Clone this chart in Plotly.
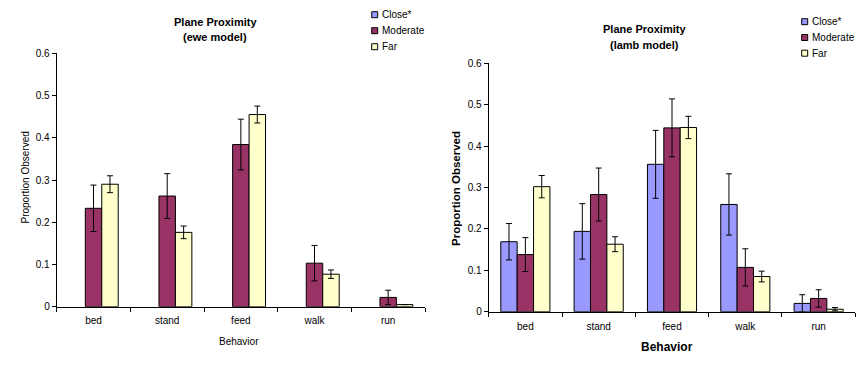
import plotly.graph_objects as go

categories = ["bed", "stand", "feed", "walk", "run"]
series_names = ["Close*", "Moderate", "Far"]
colors = ["#9999FF", "#993366", "#FFFFCC"]

# ewe model (left)
ewe_close = [None, None, None, None, None]
ewe_close_err = [0, 0, 0, 0, 0]
ewe_moderate = [0.233, 0.262, 0.384, 0.103, 0.022]
ewe_moderate_err = [0.055, 0.053, 0.060, 0.042, 0.017]
ewe_far = [0.290, 0.176, 0.455, 0.077, 0.005]
ewe_far_err = [0.020, 0.015, 0.020, 0.010, 0.0]

# lamb model (right)
lamb_close = [0.169, 0.194, 0.356, 0.259, 0.020]
lamb_close_err = [0.044, 0.067, 0.082, 0.074, 0.021]
lamb_moderate = [0.138, 0.283, 0.444, 0.107, 0.032]
lamb_moderate_err = [0.041, 0.064, 0.070, 0.045, 0.021]
lamb_far = [0.302, 0.163, 0.445, 0.085, 0.006]
lamb_far_err = [0.027, 0.018, 0.027, 0.013, 0.004]

y_ticks = [0, 0.1, 0.2, 0.3, 0.4, 0.5, 0.6]
y_ticktext = ["0", "0.1", "0.2", "0.3", "0.4", "0.5", "0.6"]

FONT = "Liberation Sans, Arial, sans-serif"
W, H = 864, 371

fig = go.Figure()

left = [(ewe_close, ewe_close_err), (ewe_moderate, ewe_moderate_err), (ewe_far, ewe_far_err)]
right = [(lamb_close, lamb_close_err), (lamb_moderate, lamb_moderate_err), (lamb_far, lamb_far_err)]

for axes, data in ((("x", "y"), left), (("x2", "y2"), right)):
    for i, (vals, errs) in enumerate(data):
        fig.add_trace(go.Bar(
            x=categories, y=vals, name=series_names[i], showlegend=False,
            marker=dict(color=colors[i], line=dict(color="black", width=1)),
            error_y=dict(type="data", array=errs, color="black", thickness=1, width=3),
            xaxis=axes[0], yaxis=axes[1], offsetgroup=str(i),
        ))

axis_common = dict(showgrid=False, zeroline=False, showline=True, linecolor="black",
                   linewidth=1, ticks="outside", tickcolor="black", ticklen=4,
                   tickfont=dict(family=FONT, size=10, color="black"))

fig.update_layout(
    width=W, height=H,
    margin=dict(l=0, r=0, t=0, b=0, autoexpand=False),
    paper_bgcolor="white", plot_bgcolor="white",
    barmode="group", bargap=0.33, bargroupgap=0,
    font=dict(family=FONT, size=10, color="black"),
    showlegend=False,
    xaxis=dict(domain=[56.7 / W, 425 / W], anchor="y", tickson="boundaries",
               ticklabelstandoff=4, **axis_common),
    yaxis=dict(domain=[1 - 306.7 / H, 1 - 53.3 / H], anchor="x", range=[0, 0.6],
               tickvals=y_ticks, ticktext=y_ticktext, **axis_common),
    xaxis2=dict(domain=[488.7 / W, 855.3 / W], anchor="y2", tickson="boundaries",
                ticklabelstandoff=5, **axis_common),
    yaxis2=dict(domain=[1 - 311.7 / H, 1 - 63.3 / H], anchor="x2", range=[0, 0.6],
                tickvals=y_ticks, ticktext=y_ticktext, **axis_common),
)

def px(x, y):
    return x / W, 1 - y / H

# custom legends (small square swatches like the original)
legend_specs = [
    (371.7, [14.7, 30.7, 46.7]),
    (801.7, [21.7, 37.5, 53.2]),
]
for lx, ys in legend_specs:
    for i, yy in enumerate(ys):
        x0, y0 = px(lx, yy - 3)
        x1, y1 = px(lx + 6, yy + 3)
        fig.add_shape(type="rect", xref="paper", yref="paper", x0=x0, x1=x1, y0=y1, y1=y0,
                      fillcolor=colors[i], line=dict(color="black", width=1))
        tx, ty = px(lx + 8, yy)
        fig.add_annotation(text=series_names[i], x=tx, y=ty, xref="paper", yref="paper",
                           xanchor="left", yanchor="middle", showarrow=False,
                           font=dict(family=FONT, size=10, color="black"))

annotations = [
    dict(text="<b>Plane Proximity</b>", x=215, y=22.3, size=11),
    dict(text="<b>(ewe model)</b>", x=215, y=36.5, size=11),
    dict(text="<b>Plane Proximity</b>", x=644, y=29.3, size=11),
    dict(text="<b>(lamb model)</b>", x=644, y=45, size=11),
    dict(text="Behavior", x=239, y=341.7, size=10),
    dict(text="<b>Behavior</b>", x=667, y=347.3, size=12),
    dict(text="Proportion Observed", x=25.5, y=178, size=10, angle=-90),
    dict(text="<b>Proportion Observed</b>", x=456, y=189, size=11.5, angle=-90),
]
for a in annotations:
    ax, ay = px(a["x"], a["y"])
    fig.add_annotation(
        text=a["text"], x=ax, y=ay, xref="paper", yref="paper",
        xanchor="center", yanchor="middle", showarrow=False,
        textangle=a.get("angle", 0),
        font=dict(family=FONT, size=a.get("size", 10), color="black"),
    )

fig.write_html(
    "out.html",
    config={"displayModeBar": False},
    post_script="document.body.style.margin='0px';document.body.style.padding='0px';",
)
